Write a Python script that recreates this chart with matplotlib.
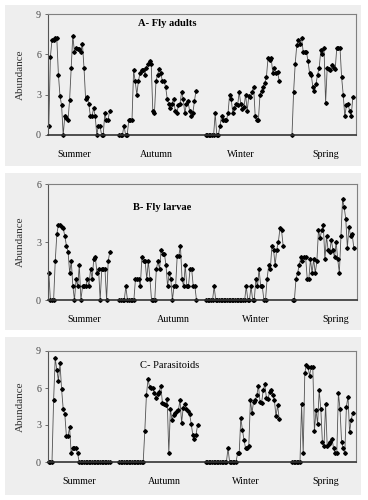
import numpy as np
import matplotlib
matplotlib.use("Agg")
import matplotlib.pyplot as plt

plt.rcParams["font.family"] = ["Liberation Serif", "DejaVu Serif"]

seasons = ["Summer", "Autumn", "Winter", "Spring"]
season_starts = [0, 44, 98, 152]

# A- Fly adults
adults_summer = [0.7, 5.8, 7.1, 7.1, 7.2, 7.2, 4.5, 2.9, 2.2, 0, 1.4, 1.3, 1.1, 2.6, 5.0,
                 7.4, 6.2, 6.5, 6.4, 6.4, 6.2, 6.8, 5.0, 2.7, 2.8, 2.3, 1.4, 1.4, 2.0, 1.4,
                 0, 0.7, 0.7, 0, 0, 1.6, 1.1, 1.1, 1.8]
adults_autumn = [0, 0, 0, 0.7, 0, 0, 1.1, 1.1, 1.1, 4.8, 4.0, 3.0, 4.0, 4.6, 4.8, 4.8, 4.5,
                 5.0, 5.3, 5.5, 5.3, 1.8, 1.6, 4.0, 4.5, 4.9, 4.6, 4.0, 4.0, 3.6, 2.7, 2.3,
                 2.0, 2.3, 2.7, 1.8, 1.6, 2.2, 2.3, 3.2, 2.7, 1.6, 2.3, 2.5, 1.8, 1.4, 1.6,
                 2.5, 3.3]
adults_winter = [0, 0, 0, 0, 0, 0, 1.6, 0, 0, 0.7, 1.4, 1.1, 1.1, 1.1, 1.6, 3.0, 2.7, 1.6,
                 2.0, 2.3, 2.2, 3.2, 2.3, 1.9, 2.1, 3.0, 1.8, 2.9, 2.8, 3.2, 3.6, 1.4, 1.1,
                 1.1, 3.0, 3.3, 3.6, 3.9, 4.3, 5.7, 5.6, 5.7, 4.6, 5.0, 4.6, 4.7, 4.0]
adults_spring = [0, 3.2, 5.3, 6.7, 7.1, 6.8, 7.2, 6.2, 6.2, 6.2, 5.5, 4.6, 4.5, 3.6, 3.3,
                 3.8, 4.5, 5.0, 6.3, 6.0, 6.5, 2.4, 5.0, 4.9, 4.8, 5.2, 5.0, 4.9, 6.5, 6.5,
                 6.5, 4.3, 3.0, 1.4, 2.2, 2.3, 1.8, 1.4, 2.8]

# B- Fly larvae
larvae_summer = [1.4, 0, 0, 0, 2.0, 3.4, 3.9, 3.9, 3.8, 3.7, 3.3, 2.8, 2.5, 1.4, 2.0, 0.7,
                 0, 1.1, 0.7, 1.8, 0, 0.7, 0.7, 0.7, 1.1, 0.7, 1.6, 1.1, 2.1, 2.2, 1.4, 1.6,
                 0, 1.6, 1.6, 1.6, 0, 2.0, 2.5]
larvae_autumn = [0, 0, 0, 0, 0.7, 0, 0, 0, 0, 0, 1.1, 1.1, 1.1, 0.7, 2.2, 2.0, 2.0, 1.1,
                 2.0, 1.1, 0, 0, 0, 1.6, 2.0, 1.6, 2.6, 2.4, 2.4, 1.8, 0.7, 1.4, 1.1, 0,
                 0.7, 0.7, 2.3, 2.3, 2.8, 1.1, 0.7, 1.8, 0.7, 0.7, 1.6, 1.6, 0.7, 0.7, 0]
larvae_winter = [0, 0, 0, 0, 0, 0.7, 0, 0, 0, 0, 0, 0, 0, 0, 0, 0, 0, 0, 0, 0, 0, 0, 0, 0,
                 0, 0.7, 0, 0, 0.7, 0, 0, 1.1, 0.7, 1.6, 0.7, 0.7, 0, 0, 1.1, 1.8, 1.6,
                 2.8, 2.6, 1.8, 2.6, 3.0, 3.7, 3.6, 2.8]
larvae_spring = [0, 0, 1.1, 1.4, 1.8, 2.2, 2.0, 2.2, 2.2, 1.1, 1.1, 2.1, 1.4, 2.1, 1.4, 2.0,
                 3.6, 3.2, 3.6, 3.9, 2.1, 3.3, 2.6, 2.5, 3.1, 2.6, 2.2, 3.0, 2.1, 1.4, 3.3,
                 5.2, 4.8, 4.2, 2.7, 3.8, 3.3, 3.4, 2.7]

# C- Parasitoids
para_summer = [0, 0, 0, 5.0, 8.4, 7.5, 6.6, 8.0, 5.9, 4.3, 3.9, 2.1, 2.1, 2.8, 0.7, 1.1,
               1.1, 1.1, 0.7] + [0] * 20
para_autumn = [0] * 16 + [2.5, 5.4, 6.7, 6.1, 6.0, 6.0, 5.6, 5.2, 5.5, 5.7, 6.2, 4.8, 4.7,
                          4.6, 5.1, 0.7, 4.3, 3.4, 3.8, 4.0, 4.1, 4.2, 5.0, 3.2, 4.4, 4.7,
                          4.3, 4.1, 3.9, 3.1, 2.2, 1.9, 2.2, 3.0]
para_winter = [0] * 14 + [1.1] + [0] * 5 + [0.7, 0.7, 3.6, 2.6, 1.8, 1.1, 1.1, 1.3, 5.0,
                                             4.0, 4.9, 5.0, 5.4, 6.2, 4.9, 4.8, 5.8, 6.3,
                                             5.2, 5.1, 5.7, 5.8, 5.4, 5.0, 3.7, 4.6, 3.5]
para_spring = [0, 0, 0, 0, 0, 0, 4.7, 0.7, 7.2, 7.9, 7.7, 7.0, 7.7, 7.7, 2.5, 4.2, 3.1,
               5.8, 4.3, 1.6, 1.3, 4.7, 1.3, 1.5, 1.6, 1.9, 1.1, 0.7, 0.7, 5.6, 4.3, 1.6,
               1.1, 0.7, 4.5, 5.3, 2.4, 3.4, 4.0]

W, H = 368, 500


def px_box(x0, y0, x1, y1):
    return [x0 / W, 1 - y1 / H, (x1 - x0) / W, (y1 - y0) / H]


def draw_panel(fig, chart_box, plot_box, series, ymax, title, title_xy, label_pos,
               title_weight="bold"):
    # grey chart area behind the plot area
    bg = fig.add_axes(px_box(*chart_box), zorder=-1)
    bg.set_facecolor("#eeeeee")
    bg.set_xticks([])
    bg.set_yticks([])
    for s in bg.spines.values():
        s.set_visible(False)

    ax = fig.add_axes(px_box(*plot_box), zorder=1)
    ax.set_facecolor("#efefef")
    for start, vals in zip(season_starts, series):
        x = start + np.arange(len(vals))
        ax.plot(x, vals, color="#505050", lw=0.6, marker="D", ms=1.9,
                mfc="black", mec="black", clip_on=False)
    ax.set_xlim(-0.5, 192)
    ax.set_ylim(0, ymax)
    ax.set_yticks(np.arange(0, ymax + 1, 3))
    ax.set_xticks(label_pos)
    ax.set_xticklabels(seasons)
    ax.tick_params(axis="x", length=0, pad=10.5, labelsize=7.2)
    ax.tick_params(axis="y", length=2.5, width=0.6, color="#555555", pad=2.5,
                   labelsize=7.2, labelcolor="#444444")
    for side in ["top", "right"]:
        ax.spines[side].set_color("#808080")
        ax.spines[side].set_linewidth(0.8)
    ax.spines["left"].set_color("#555555")
    ax.spines["left"].set_linewidth(0.8)
    ax.spines["bottom"].set_color("#333333")
    ax.spines["bottom"].set_linewidth(1.2)
    ax.set_ylabel("Abundance", fontsize=8, color="#333333", labelpad=8)
    ax.text((title_xy[0] - plot_box[0]) / (plot_box[2] - plot_box[0]),
            (plot_box[3] - title_xy[1]) / (plot_box[3] - plot_box[1]), title,
            transform=ax.transAxes, ha="center", va="center",
            fontsize=7.6, fontweight=title_weight)
    return ax


fig = plt.figure(figsize=(W / 100, H / 100), dpi=100)
fig.patch.set_facecolor("white")

draw_panel(fig, (5, 5, 361, 166), (48, 14, 356, 135),
           [adults_summer, adults_autumn, adults_winter, adults_spring], 9,
           "A- Fly adults", (167, 24), [15.6, 67, 120, 173])
draw_panel(fig, (5, 173, 361, 330), (48, 184, 357, 300),
           [larvae_summer, larvae_autumn, larvae_winter, larvae_spring], 6,
           "B- Fly larvae", (162, 208), [22, 77.5, 129, 179])
draw_panel(fig, (5, 337, 361, 495), (48, 351, 356, 462),
           [para_summer, para_autumn, para_winter, para_spring], 9,
           "C- Parasitoids", (170, 365), [19, 72, 123, 173], title_weight="normal")

fig.savefig("out.png", dpi=100, facecolor="white")
